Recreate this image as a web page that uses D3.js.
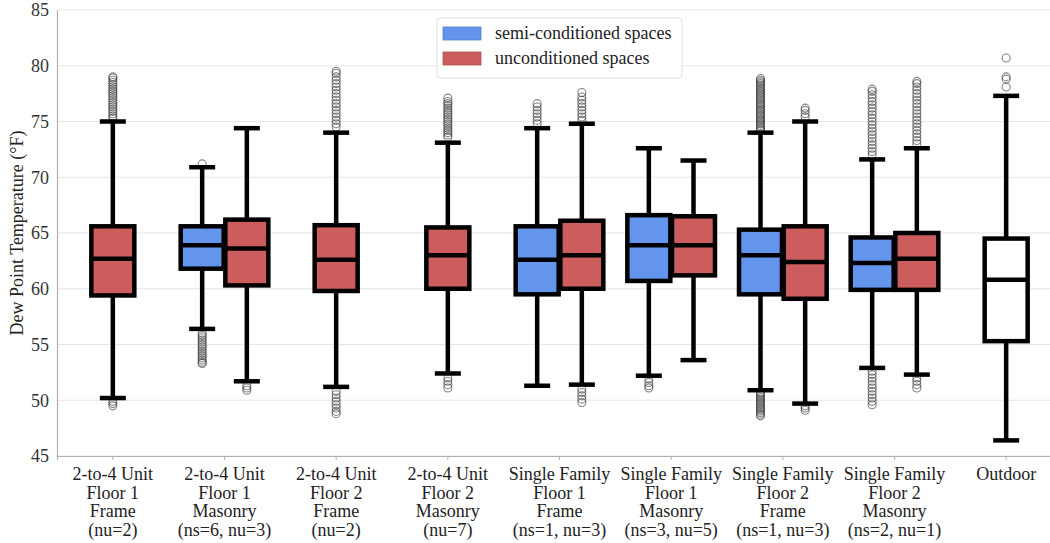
<!DOCTYPE html>
<html>
<head>
<meta charset="utf-8">
<script src="https://cdn.jsdelivr.net/npm/d3@7"></script>
<style>
  body { margin: 0; background: #fff; }
  text { font-family: "Liberation Serif", "Times New Roman", serif; }
</style>
</head>
<body>
<div id="chart"></div>
<script>
// categories, one label per group (lines split on \n)
var categories = [
  "2-to-4 Unit\nFloor 1\nFrame\n(nu=2)",
  "2-to-4 Unit\nFloor 1\nMasonry\n(ns=6, nu=3)",
  "2-to-4 Unit\nFloor 2\nFrame\n(nu=2)",
  "2-to-4 Unit\nFloor 2\nMasonry\n(nu=7)",
  "Single Family\nFloor 1\nFrame\n(ns=1, nu=3)",
  "Single Family\nFloor 1\nMasonry\n(ns=3, nu=5)",
  "Single Family\nFloor 2\nFrame\n(ns=1, nu=3)",
  "Single Family\nFloor 2\nMasonry\n(ns=2, nu=1)",
  "Outdoor"
];

// box stats: [whisker low, Q1, median, Q3, whisker high]
var semiStats = [
  null,
  [56.4, 61.8, 63.9, 65.6, 70.9],
  null,
  null,
  [51.3, 59.5, 62.6, 65.6, 74.4],
  [52.2, 60.7, 63.9, 66.6, 72.6],
  [50.9, 59.5, 63.0, 65.3, 74.0],
  [52.9, 59.9, 62.3, 64.6, 71.6],
  null
];
var uncondStats = [
  [50.2, 59.4, 62.7, 65.6, 75.0],
  [51.7, 60.3, 63.6, 66.2, 74.4],
  [51.2, 59.8, 62.6, 65.7, 74.0],
  [52.4, 60.0, 63.0, 65.5, 73.1],
  [51.4, 60.0, 63.0, 66.1, 74.8],
  [53.6, 61.2, 63.9, 66.5, 71.5],
  [49.7, 59.1, 62.4, 65.6, 75.0],
  [52.3, 59.9, 62.7, 65.0, 72.6],
  null
];
var outdoorStats = [46.4, 55.3, 60.8, 64.5, 77.3];

// outliers
var semiOutliers = [
  [],
  [71.2, 56.0, 55.8, 55.6, 55.4, 55.2, 55.0, 54.8, 54.6, 54.4, 54.2, 54.0, 53.8, 53.6, 53.4, 53.3],
  [],
  [],
  [74.8, 75.1, 75.4, 75.7, 76.0, 76.3, 76.6],
  [51.9, 51.6, 51.3, 51.1],
  [74.2, 74.35, 74.5, 74.65, 74.8, 74.95, 75.1, 75.25, 75.4, 75.55, 75.7, 75.85, 76.0, 76.15, 76.3, 76.45,
   76.6, 76.75, 76.9, 77.05, 77.2, 77.35, 77.5, 77.65, 77.8, 77.95, 78.1, 78.25, 78.4, 78.55, 78.7, 78.85,
   50.7, 50.55, 50.4, 50.25, 50.1, 49.95, 49.8, 49.65, 49.5, 49.35, 49.2, 49.05, 48.9, 48.75, 48.6],
  [72.0, 72.3, 72.6, 72.9, 73.2, 73.5, 73.8, 74.1, 74.4, 74.7, 75.0, 75.3, 75.6, 75.9, 76.2, 76.5, 76.8, 77.1, 77.4, 77.7, 77.9,
   52.6, 52.3, 52.0, 51.7, 51.4, 51.1, 50.8, 50.5, 50.2, 49.9, 49.6],
  []
];
var uncondOutliers = [
  [75.3, 75.5, 75.7, 75.9, 76.1, 76.3, 76.5, 76.7, 76.9, 77.1, 77.3, 77.5, 77.7, 77.9, 78.1, 78.3, 78.5, 78.7, 78.9, 79.0,
   49.9, 49.7, 49.5],
  [51.3, 51.1, 50.9],
  [74.5, 74.8, 75.1, 75.4, 75.7, 76.0, 76.3, 76.6, 76.9, 77.2, 77.5, 77.8, 78.1, 78.4, 78.7, 79.0, 79.3, 79.5,
   50.8, 50.5, 50.2, 49.9, 49.6, 49.3, 49.0, 48.8],
  [73.6, 73.8, 74.0, 74.2, 74.4, 74.6, 74.8, 75.0, 75.2, 75.4, 75.6, 75.8, 76.0, 76.2, 76.4, 76.6, 76.8, 77.1,
   52.0, 51.7, 51.4, 51.1],
  [75.1, 75.4, 75.7, 76.0, 76.3, 76.6, 76.9, 77.2, 77.6, 51.0, 50.7, 50.4, 50.1, 49.8],
  [],
  [75.4, 75.7, 76.0, 76.2, 49.5, 49.3, 49.1],
  [73.0, 73.3, 73.6, 73.9, 74.2, 74.5, 74.8, 75.1, 75.4, 75.7, 76.0, 76.3, 76.6, 76.9, 77.2, 77.5, 77.8, 78.1, 78.4, 78.6,
   52.0, 51.7, 51.4, 51.1],
  []
];
var outdoorOutliers = [78.1, 78.8, 79.0, 80.7];

var yTicks = [45, 50, 55, 60, 65, 70, 75, 80, 85];
var seriesNames = ["semi-conditioned spaces", "unconditioned spaces"];
var seriesColors = ["#6495ed", "#cd5c5c"];

var width = 1050, height = 543;
var plotLeft = 57, plotTop = 10, plotBottom = 456;

var svg = d3.select("#chart").append("svg")
  .attr("width", width)
  .attr("height", height);

var x = d3.scaleBand().domain(categories).range([plotLeft, 1062]).padding(0);
var y = d3.scaleLinear().domain([45, 85]).range([plotBottom, plotTop]);
var bw = x.bandwidth();
var boxW = bw * 0.385;
var dodge = bw * 0.2;

// grid
svg.append("g").selectAll("line")
  .data(yTicks)
  .enter().append("line")
  .attr("x1", plotLeft).attr("x2", width)
  .attr("y1", d => y(d)).attr("y2", d => y(d))
  .attr("stroke", "#e6e6e6")
  .attr("stroke-width", 1.2);

// y axis
var yAxis = svg.append("g")
  .attr("transform", "translate(" + plotLeft + ",0)")
  .call(d3.axisLeft(y).tickValues(yTicks).tickSize(0).tickPadding(8));
yAxis.select(".domain").attr("stroke", "#b0b0b0").attr("stroke-width", 1.2);
yAxis.selectAll("text")
  .attr("font-family", "Liberation Serif")
  .attr("font-size", 18)
  .attr("fill", "#333");

// x axis
var xAxis = svg.append("g")
  .attr("transform", "translate(0," + plotBottom + ")")
  .call(d3.axisBottom(x).tickSize(4).tickFormat(""));
xAxis.select(".domain").attr("stroke", "#b0b0b0").attr("stroke-width", 1.2);
xAxis.selectAll(".tick line").attr("stroke", "#b0b0b0");

var labels = svg.append("g");
categories.forEach(function(c) {
  var t = labels.append("text")
    .attr("text-anchor", "middle")
    .attr("font-size", 18)
    .attr("fill", "#222");
  c.split("\n").forEach(function(line, i) {
    t.append("tspan")
      .attr("x", x(c) + bw / 2)
      .attr("y", 480 + i * 18.5)
      .text(line);
  });
});

svg.append("text")
  .attr("transform", "translate(23," + ((plotTop + plotBottom) / 2) + ") rotate(-90)")
  .attr("text-anchor", "middle")
  .attr("font-size", 18)
  .attr("fill", "#222")
  .text("Dew Point Temperature (\u00b0F)");

function drawBox(cx, s, fill, outliers) {
  var g = svg.append("g");
  g.selectAll("circle")
    .data(outliers)
    .enter().append("circle")
    .attr("cx", cx)
    .attr("cy", d => y(d))
    .attr("r", 4)
    .attr("fill", "none")
    .attr("stroke", "#333")
    .attr("stroke-opacity", 0.6)
    .attr("stroke-width", 1.1);
  // whiskers
  g.append("line")
    .attr("x1", cx).attr("x2", cx)
    .attr("y1", y(s[0])).attr("y2", y(s[1]))
    .attr("stroke", "#000").attr("stroke-width", 4.5);
  g.append("line")
    .attr("x1", cx).attr("x2", cx)
    .attr("y1", y(s[3])).attr("y2", y(s[4]))
    .attr("stroke", "#000").attr("stroke-width", 4.5);
  [s[0], s[4]].forEach(function(v) {
    g.append("line")
      .attr("x1", cx - 13).attr("x2", cx + 13)
      .attr("y1", y(v)).attr("y2", y(v))
      .attr("stroke", "#000").attr("stroke-width", 4.5);
  });
  g.append("rect")
    .attr("x", cx - boxW / 2)
    .attr("y", y(s[3]))
    .attr("width", boxW)
    .attr("height", y(s[1]) - y(s[3]))
    .attr("fill", fill)
    .attr("stroke", "#000")
    .attr("stroke-width", 4.5);
  g.append("line")
    .attr("x1", cx - boxW / 2).attr("x2", cx + boxW / 2)
    .attr("y1", y(s[2])).attr("y2", y(s[2]))
    .attr("stroke", "#000").attr("stroke-width", 4.5);
}

categories.forEach(function(c, i) {
  var cx = x(c) + bw / 2;
  var both = semiStats[i] && uncondStats[i];
  if (semiStats[i]) drawBox(both ? cx - dodge : cx, semiStats[i], seriesColors[0], semiOutliers[i]);
  if (uncondStats[i]) drawBox(both ? cx + dodge : cx, uncondStats[i], seriesColors[1], uncondOutliers[i]);
});
var lastC = categories[categories.length - 1];
drawBox(x(lastC) + bw / 2, outdoorStats, "#fff", outdoorOutliers);

// legend
var legend = svg.append("g");
legend.append("rect")
  .attr("x", 437).attr("y", 18)
  .attr("width", 245).attr("height", 60)
  .attr("rx", 3)
  .attr("fill", "#fff")
  .attr("stroke", "#e0e0e0");
seriesNames.forEach(function(n, i) {
  legend.append("rect")
    .attr("x", 443).attr("y", 27 + i * 25)
    .attr("width", 38).attr("height", 13)
    .attr("fill", seriesColors[i])
    .attr("stroke", d3.color(seriesColors[i]).darker(0.4))
    .attr("stroke-width", 0.8);
  legend.append("text")
    .attr("x", 495).attr("y", 39 + i * 25)
    .attr("font-size", 18)
    .attr("fill", "#222")
    .text(n);
});
</script>
</body>
</html>
